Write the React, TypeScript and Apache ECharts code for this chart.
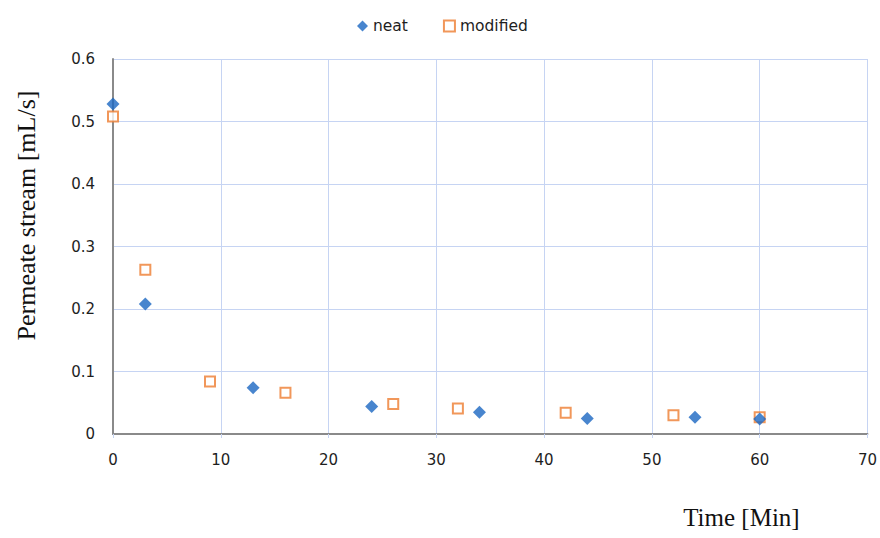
import React, { useEffect, useRef } from "react";
import * as echarts from "echarts";

// Permeate flow over time for two membrane samples
const neatTime = [0, 3, 13, 24, 34, 44, 54, 60];
const neatFlow = [0.528, 0.208, 0.074, 0.044, 0.035, 0.025, 0.027, 0.024];

const modifiedTime = [0, 3, 9, 16, 26, 32, 42, 52, 60];
const modifiedFlow = [0.508, 0.263, 0.084, 0.066, 0.048, 0.041, 0.034, 0.03, 0.027];

const seriesNames = ["neat", "modified"];

const pair = (xs: number[], ys: number[]) => xs.map((x, i) => [x, ys[i]]);

export default function App() {
  const ref = useRef<HTMLDivElement>(null);

  useEffect(() => {
    document.body.style.margin = "0";
    document.body.style.overflow = "hidden";
    document.documentElement.style.overflow = "hidden";
    if (!ref.current) return;
    const chart = echarts.init(ref.current, null, { renderer: "svg" });
    const gridColor = "#c6d4f3";
    const labelFont = { fontFamily: "DejaVu Sans", fontSize: 15, color: "#1e1e1e" };
    chart.setOption({
      animation: false,
      backgroundColor: "#ffffff",
      legend: {
        top: 13,
        left: 352,
        itemGap: 35,
        itemWidth: 11,
        itemHeight: 11,
        textStyle: { fontFamily: "DejaVu Sans", fontSize: 15.5, color: "#1e1e1e" },
        data: [
          { name: seriesNames[0], icon: "diamond" },
          { name: seriesNames[1], icon: "rect", itemStyle: { color: "#fff", borderColor: "#ed7d31", borderWidth: 2 } },
        ],
      },
      grid: { left: 113, right: 11, top: 59, bottom: 104 },
      xAxis: {
        type: "value",
        min: 0,
        max: 70,
        interval: 10,
        name: "Time [Min]",
        nameLocation: "end",
        nameGap: 0,
        nameTextStyle: {
          fontFamily: "Liberation Serif",
          fontSize: 25,
          color: "#111",
          align: "center",
          verticalAlign: "top",
          padding: [71, 252, 0, 0],
        },
        axisLine: { show: true, lineStyle: { color: "#8a8a8a", width: 2 } },
        axisTick: { show: true, length: 4, lineStyle: { color: gridColor } },
        axisLabel: { ...labelFont, margin: 18 },
        splitLine: { show: true, lineStyle: { color: gridColor, width: 1 } },
      },
      yAxis: {
        type: "value",
        min: 0,
        max: 0.6,
        interval: 0.1,
        name: "Permeate stream [mL/s]",
        nameLocation: "middle",
        nameRotate: 90,
        nameGap: 74,
        nameTextStyle: { fontFamily: "Liberation Serif", fontSize: 26, color: "#111", padding: [0, 0, 0, 62] },
        axisLine: { show: true, lineStyle: { color: "#8a8a8a", width: 2 } },
        axisTick: { show: false },
        axisLabel: { ...labelFont, margin: 18 },
        splitLine: { show: true, lineStyle: { color: gridColor, width: 1 } },
      },
      series: [
        {
          name: seriesNames[0],
          type: "scatter",
          symbol: "diamond",
          symbolSize: 13,
          itemStyle: { color: "#1a66c2" },
          data: pair(neatTime, neatFlow),
          z: 3,
        },
        {
          name: seriesNames[1],
          type: "scatter",
          symbol: "rect",
          symbolSize: 10,
          itemStyle: { color: "#ffffff", borderColor: "#ed7d31", borderWidth: 2 },
          data: pair(modifiedTime, modifiedFlow),
          z: 2,
        },
      ],
    });
    return () => chart.dispose();
  }, []);

  return <div ref={ref} style={{ width: 880, height: 538 }} />;
}
